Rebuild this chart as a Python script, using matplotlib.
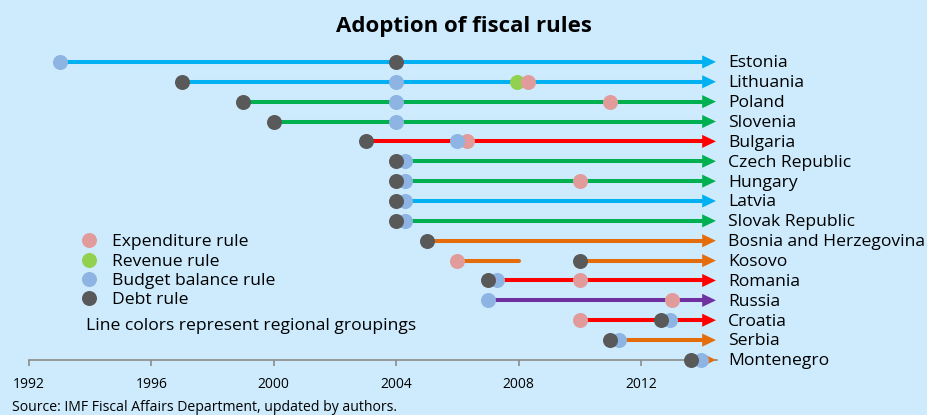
import matplotlib.pyplot as plt
from matplotlib.lines import Line2D

plt.rcParams['font.family'] = ['Open Sans', 'DejaVu Sans']

countries = ['Estonia', 'Lithuania', 'Poland', 'Slovenia', 'Bulgaria',
             'Czech Republic', 'Hungary', 'Latvia', 'Slovak Republic',
             'Bosnia and Herzegovina', 'Kosovo', 'Romania', 'Russia',
             'Croatia', 'Serbia', 'Montenegro']

# year each line starts (first rule adopted) and the line colour (region)
line_start = [1993, 1997, 1999, 2000, 2003, 2004, 2004, 2004, 2004,
              2005, 2010, 2007, 2007, 2010, 2011, 2013.65]
groups = ['baltic', 'baltic', 'ce', 'ce', 'see_eu', 'ce', 'ce', 'baltic', 'ce',
          'see', 'see', 'see_eu', 'cis', 'see_eu', 'see', 'see']

# Kosovo's expenditure rule was dropped in 2008
kosovo_early = (2006, 2008)

# adoption years per rule type, by row (None = no such rule)
expenditure = [None, 2008.3, 2011, None, 2006.3, None, 2010, None, None,
               None, 2006, 2010, 2013, 2010, None, None]
revenue = [None, 2007.95, None, None, None, None, None, None, None,
           None, None, None, None, None, None, None]
budget = [1993, 2004, 2004, 2004, 2006, 2004.3, 2004.3, 2004.3, 2004.3,
          None, None, 2007.3, 2007, 2012.95, 2011.28, 2013.95]
debt = [2004, 1997, 1999, 2000, 2003, 2004, 2004, 2004, 2004,
        2005, 2010, 2007, None, 2012.65, 2011, 2013.65]

rule_names = ['Expenditure rule', 'Revenue rule', 'Budget balance rule', 'Debt rule']

group_colors = {'baltic': '#00b0f0', 'ce': '#00b050', 'see_eu': '#ff0000',
                'see': '#e46c0a', 'cis': '#7030a0'}
rule_colors = {'Expenditure rule': '#e29b9b', 'Revenue rule': '#92d050',
               'Budget balance rule': '#8db4e2', 'Debt rule': '#595959'}

bg = '#cdebfd'
arrow_tip = 2014.45
head_len = 0.45
head_half = 0.33
fs = 12.6

fig = plt.figure(figsize=(9.28, 4.15), dpi=100, facecolor=bg)
ax = fig.add_axes([29 / 928, 0.1087, 0.7419, 0.790])
ax.set_facecolor(bg)

rows = range(len(countries))
for i in rows:
    c = group_colors[groups[i]]
    ax.plot([line_start[i], arrow_tip - head_len + 0.05], [i, i], color=c,
            lw=2.9, solid_capstyle='butt', zorder=2)
    ax.fill([arrow_tip - head_len, arrow_tip, arrow_tip - head_len],
            [i - head_half, i, i + head_half], color=c, lw=0, zorder=2)
    ax.text(arrow_tip + 0.4, i + 0.07, countries[i], va='center', ha='left',
            fontsize=fs, color='black')

k = countries.index('Kosovo')
ax.plot(kosovo_early, [k, k], color=group_colors['see'], lw=2.9,
        solid_capstyle='round', zorder=2)

# drawing order decides which dot sits on top where two overlap
for name, years in [('Revenue rule', revenue),
                    ('Expenditure rule', expenditure),
                    ('Budget balance rule', budget),
                    ('Debt rule', debt)]:
    xs = [y for y in years if y is not None]
    ys = [i for i, y in zip(rows, years) if y is not None]
    ax.plot(xs, ys, 'o', ms=10.8, mew=0, color=rule_colors[name], zorder=3)

handles = [Line2D([], [], ls='none', marker='o', ms=10.8, mew=0, color=rule_colors[n])
           for n in rule_names]
ax.legend(handles, rule_names, loc='upper left', bbox_to_anchor=(0.074, 0.414),
          frameon=False, fontsize=fs, handletextpad=0.83, labelspacing=0.17,
          handlelength=1.0, borderpad=0, borderaxespad=0)
ax.text(1993.85, 13.3, 'Line colors represent regional groupings', fontsize=fs,
        va='center', ha='left')

ax.set_xlim(1992, 2014.5)
ax.set_ylim(15.5, -1)
ax.set_xticks([1992, 1996, 2000, 2004, 2008, 2012])
ax.set_yticks([])
for s in ['top', 'right', 'left']:
    ax.spines[s].set_visible(False)
ax.spines['bottom'].set_position(('data', 15))
ax.spines['bottom'].set_color('#8c8c8c')
ax.spines['bottom'].set_linewidth(1.2)
ax.spines['bottom'].set_zorder(1)
ax.tick_params(axis='x', direction='out', length=4, width=1.2, color='#8c8c8c',
               labelsize=10, pad=8)

fig.text(0.5, 0.935, 'Adoption of fiscal rules', ha='center', va='center',
         fontsize=16, fontweight='bold')
fig.text(12 / 928, 0.017, 'Source: IMF Fiscal Affairs Department, updated by authors.',
         fontsize=10.1, ha='left', va='center')

fig.savefig('out.png', dpi=100, facecolor=bg)
